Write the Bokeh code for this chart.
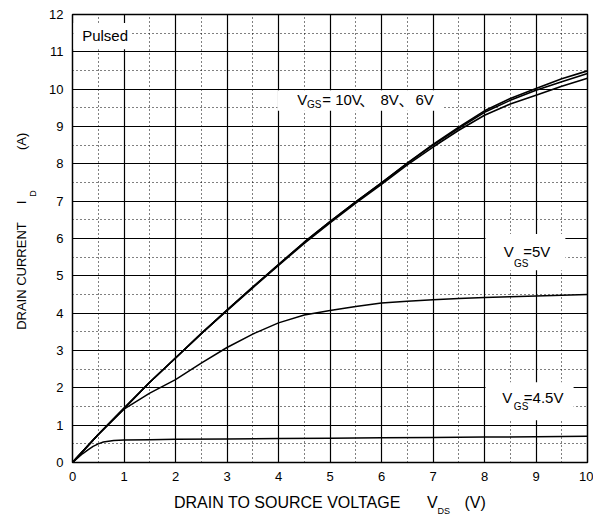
from bokeh.plotting import figure
from bokeh.models import FixedTicker, Label, BoxAnnotation, LinearAxis
from bokeh.embed import file_html
from bokeh.resources import INLINE

# ---- data ----
vds = [0, 0.5, 1, 1.5, 2, 2.5, 3, 3.5, 4, 4.5, 5, 5.5, 6, 6.5, 7, 7.5, 8, 8.5, 9, 9.5, 10]
id_10v = [0, 0.75, 1.45, 2.15, 2.8, 3.45, 4.08, 4.7, 5.3, 5.9, 6.45, 6.98, 7.49, 8.02, 8.52, 8.98, 9.42, 9.75, 10.02, 10.28, 10.49]
id_8v = [0, 0.75, 1.45, 2.15, 2.8, 3.45, 4.08, 4.7, 5.3, 5.9, 6.45, 6.98, 7.49, 8.01, 8.5, 8.95, 9.38, 9.7, 9.97, 10.2, 10.42]
id_6v = [0, 0.75, 1.45, 2.15, 2.8, 3.45, 4.07, 4.68, 5.28, 5.87, 6.42, 6.95, 7.45, 7.97, 8.45, 8.9, 9.3, 9.6, 9.84, 10.08, 10.29]
id_5v = [0, 0.75, 1.43, 1.86, 2.22, 2.66, 3.08, 3.44, 3.74, 3.95, 4.07, 4.18, 4.27, 4.32, 4.36, 4.39, 4.42, 4.44, 4.46, 4.48, 4.5]
vds_45 = [0, 0.1, 0.2, 0.3, 0.4, 0.5, 0.6, 0.8, 1, 1.5, 2, 3, 4, 5, 6, 7, 8, 9, 10]
id_45v = [0, 0.12, 0.24, 0.34, 0.43, 0.5, 0.55, 0.59, 0.6, 0.61, 0.62, 0.63, 0.64, 0.65, 0.66, 0.67, 0.68, 0.69, 0.7]
x_ticks = list(range(0, 11))
y_ticks = list(range(0, 13))

FONT = "Liberation Sans"
NB = "\u00a0"

p = figure(x_range=(0, 10), y_range=(0, 12), frame_width=515, frame_height=448,
           min_border_left=72, min_border_right=6, min_border_top=14, min_border_bottom=59,
           output_backend="svg", toolbar_location=None)
p.background_fill_color = "white"
p.border_fill_color = "white"
p.outline_line_color = "black"
p.outline_line_width = 1.5

p.xaxis.ticker = FixedTicker(ticks=x_ticks, minor_ticks=[i * 0.5 for i in range(21)])
p.yaxis.ticker = FixedTicker(ticks=y_ticks, minor_ticks=[i * 0.5 for i in range(25)])


def plain_axis(ax):
    ax.axis_line_color = None
    ax.major_tick_line_color = None
    ax.minor_tick_line_color = None
    ax.major_tick_out = 0
    ax.major_tick_in = 0
    ax.minor_tick_out = 0
    ax.minor_tick_in = 0
    ax.major_label_text_font = FONT
    ax.major_label_text_font_size = "13px"
    ax.major_label_text_color = "black"
    ax.axis_label_text_font = FONT
    ax.axis_label_text_font_style = "normal"
    ax.axis_label_text_color = "black"


for ax in (p.xaxis[0], p.yaxis[0]):
    plain_axis(ax)
p.xaxis.major_label_standoff = 9
p.yaxis.major_label_standoff = 9

# x axis title: main text on the tick axis, subscript on an extra axis below it
p.xaxis.axis_label = "DRAIN TO SOURCE VOLTAGE" + NB * 6 + "V" + NB * 6 + "(V)"
p.xaxis.axis_label_text_font_size = "16px"
p.xaxis.axis_label_standoff = 10
x_sub = LinearAxis(ticker=FixedTicker(ticks=[]), axis_label=NB * 91 + "DS")
plain_axis(x_sub)
x_sub.axis_label_text_font_size = "9px"
x_sub.axis_label_standoff = -8
p.add_layout(x_sub, "below")

# y axis title: subscript on the tick axis, main text on an extra axis outside it
p.yaxis.axis_label = NB * 36 + "D"
p.yaxis.axis_label_text_font_size = "9px"
p.yaxis.axis_label_standoff = 8
y_main = LinearAxis(ticker=FixedTicker(ticks=[]),
                    axis_label=NB * 4 + "DRAIN CURRENT" + NB * 5 + "I" + NB * 14 + "(A)")
plain_axis(y_main)
y_main.axis_label_text_font_size = "13px"
y_main.axis_label_standoff = -3
p.add_layout(y_main, "left")

for g in (p.xgrid, p.ygrid):
    g.grid_line_color = "black"
    g.grid_line_width = 1.2
    g.grid_line_alpha = 1
    g.minor_grid_line_color = "black"
    g.minor_grid_line_width = 1
    g.minor_grid_line_dash = "1 3"

for ys in (id_10v, id_8v, id_6v):
    p.line(vds, ys, line_color="black", line_width=1.6)
p.line(vds, id_5v, line_color="black", line_width=1.5)
p.line(vds_45, id_45v, line_color="black", line_width=1.5)


def box(l, r, b, t):
    p.add_layout(BoxAnnotation(left=l, right=r, bottom=b, top=t, fill_color="white",
                               fill_alpha=1, line_color=None))


def lab(x, y, text, size, font=FONT):
    p.add_layout(Label(x=x, y=y, text=text, text_font=font, text_font_size=size,
                       text_color="black", text_baseline="middle", text_align="left"))


# Pulsed
box(0.02, 1.15, 11.07, 11.77)
lab(0.188, 11.45, "Pulsed", "15px")

# VGS = 10V, 8V, 6V
box(3.98, 7.18, 9.42, 9.97)
lab(4.363, 9.72, "V", "15px")
lab(4.553, 9.58, "GS", "10px")
lab(4.849, 9.72, "= 10V", "15px")
lab(5.57, 9.72, "、", "15px", font="Noto Sans CJK JP")
lab(5.981, 9.72, "8V", "15px")
lab(6.33, 9.72, "、", "15px", font="Noto Sans CJK JP")
lab(6.660, 9.72, "6V", "15px")

# VGS = 5V
box(8.02, 9.57, 5.15, 6.12)
lab(8.375, 5.66, "V", "15px")
lab(8.573, 5.32, "GS", "10px")
lab(8.751, 5.66, "=5V", "15px")

# VGS = 4.5V
box(8.02, 9.73, 1.13, 2.15)
lab(8.344, 1.73, "V", "15px")
lab(8.57, 1.51, "GS", "10px")
lab(8.763, 1.73, "=4.5V", "15px")

open("out.html", "w").write(file_html(p, INLINE))
